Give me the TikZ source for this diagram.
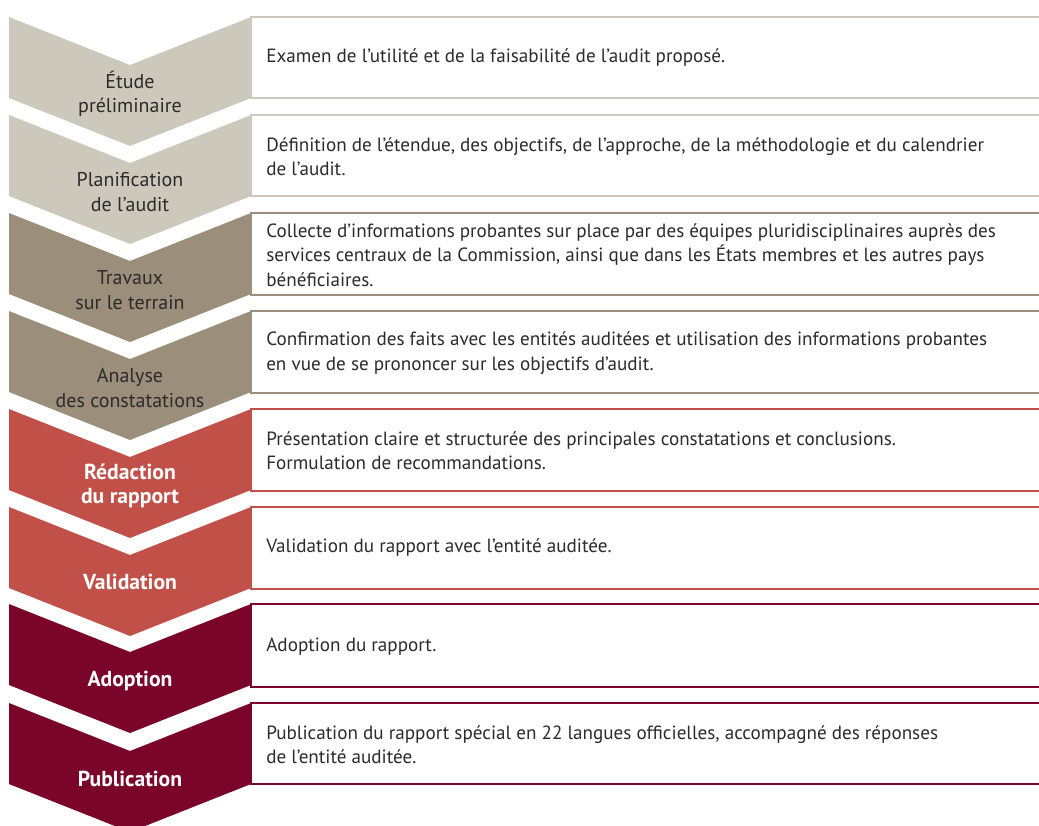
\documentclass[tikz,border=0pt]{standalone}
\usepackage{fontspec}
\setmainfont{PT Sans}
\usepackage{tikz}
\usetikzlibrary{positioning}

\definecolor{phaseA}{RGB}{204,200,188}
\definecolor{phaseB}{RGB}{155,142,122}
\definecolor{phaseC}{RGB}{192,80,72}
\definecolor{phaseD}{RGB}{122,4,42}
\definecolor{bodytext}{RGB}{45,42,42}

\begin{document}
\begin{tikzpicture}[
  x=0.025cm, y=-0.025cm,
  every node/.style={font=\fontsize{13.6}{17.3}\selectfont},
  chevron/.pic={\fill (-121,0) -- (0,48) -- (121,0) -- (121,81) -- (0,129) -- (-121,81) -- cycle;},
  stepbox/.style={draw=#1, line width=1.6pt, fill=white},
  lbl/.style={align=center, text=bodytext, inner sep=0pt, font=\fontsize{14.2}{17.3}\selectfont},
  lblbold/.style={align=center, text=white, inner sep=0pt, font=\fontsize{15.4}{17.3}\selectfont\bfseries},
  descr/.style={anchor=west, align=left, text=bodytext, inner sep=0pt}
]
  \useasboundingbox (0,0) rectangle (1039,825);

  % text boxes behind the arrows
  \draw[stepbox=phaseA] (251,17) rectangle (1045,98);
  \draw[stepbox=phaseA] (251,115) rectangle (1045,196);
  \draw[stepbox=phaseB] (251,213) rectangle (1045,295);
  \draw[stepbox=phaseB] (251,311) rectangle (1045,393);
  \draw[stepbox=phaseC] (251,409) rectangle (1045,491);
  \draw[stepbox=phaseC] (251,507) rectangle (1045,589);
  \draw[stepbox=phaseD] (251,604) rectangle (1045,687);
  \draw[stepbox=phaseD] (251,703) rectangle (1045,784);

  % the arrows
  \pic[fill=phaseA] at (130,17) {chevron};
  \pic[fill=phaseA] at (130,115) {chevron};
  \pic[fill=phaseB] at (130,213) {chevron};
  \pic[fill=phaseB] at (130,311) {chevron};
  \pic[fill=phaseC] at (130,409) {chevron};
  \pic[fill=phaseC] at (130,507) {chevron};
  \pic[fill=phaseD] at (130,604) {chevron};
  \pic[fill=phaseD] at (130,703) {chevron};

  % phase names
  \node[lbl] (etude) at (130,94) {Étude\\préliminaire};
  \node[lbl] (planif) at (130,192) {Planification\\de l’audit};
  \node[lbl] (travaux) at (130,290) {Travaux\\sur le terrain};
  \node[lbl] (analyse) at (130,388) {Analyse\\des constatations};
  \node[lblbold] (redaction) at (130,486) {Rédaction\\du rapport};
  \node[lblbold] (validation) at (130,582) {Validation};
  \node[lblbold] (adoption) at (130,681) {Adoption};
  \node[lblbold] (publication) at (130,779) {Publication};

  % descriptions
  \node[descr] (etude-d) at (266,58) {Examen de l’utilité et de la faisabilité de l’audit proposé.};
  \node[descr] (planif-d) at (266,157) {Définition de l’étendue, des objectifs, de l’approche, de la méthodologie et du calendrier\\de l’audit.};
  \node[descr] (travaux-d) at (266,255) {Collecte d’informations probantes sur place par des équipes pluridisciplinaires auprès des\\services centraux de la Commission, ainsi que dans les États membres et les autres pays\\bénéficiaires.};
  \node[descr] (analyse-d) at (266,353) {Confirmation des faits avec les entités auditées et utilisation des informations probantes\\en vue de se prononcer sur les objectifs d’audit.};
  \node[descr] (redaction-d) at (266,451) {Présentation claire et structurée des principales constatations et conclusions.\\Formulation de recommandations.};
  \node[descr] (validation-d) at (266,548) {Validation du rapport avec l’entité auditée.};
  \node[descr] (adoption-d) at (266,647) {Adoption du rapport.};
  \node[descr] (publication-d) at (266,745) {Publication du rapport spécial en 22 langues officielles, accompagné des réponses\\de l’entité auditée.};
\end{tikzpicture}
\end{document}
